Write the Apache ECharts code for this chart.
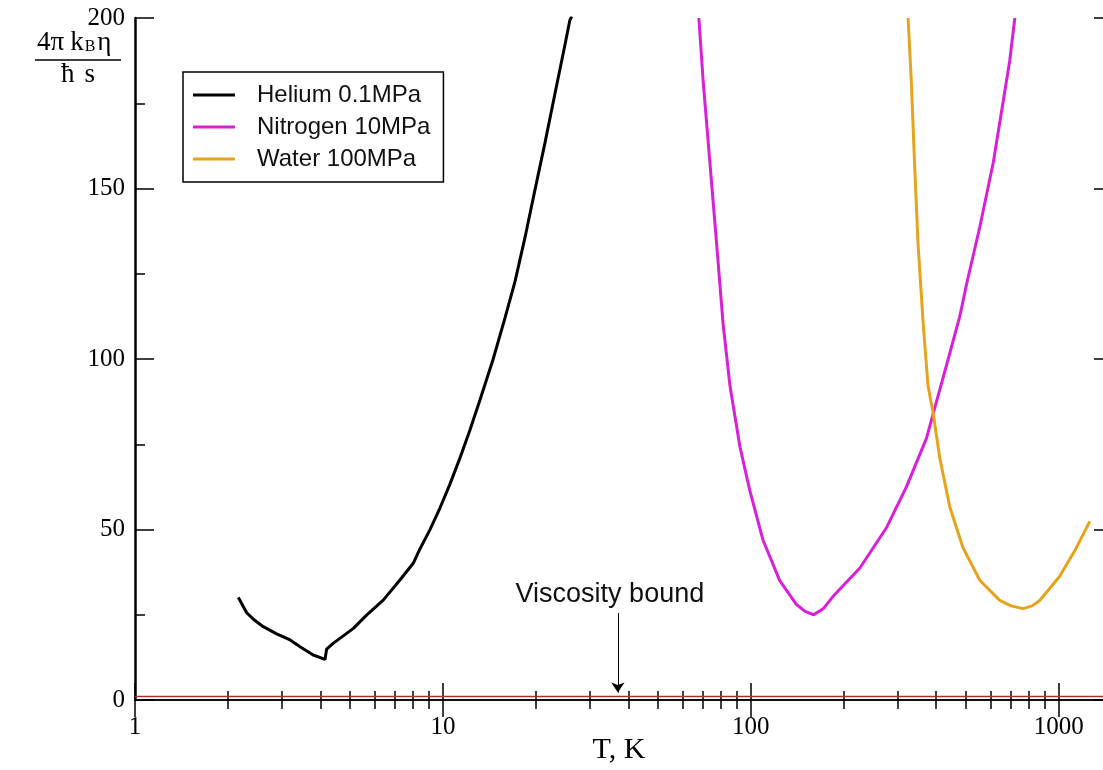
<!DOCTYPE html>
<html>
<head>
<meta charset="utf-8">
<script src="https://cdn.jsdelivr.net/npm/echarts@6/dist/echarts.min.js"></script>
<style>
html,body{margin:0;padding:0;background:#fff;}
#chart{width:1103px;height:770px;}
</style>
</head>
<body>
<div id="chart"></div>
<script>
// values: T in K, y = 4*pi*kB*eta/(hbar*s)
var heliumT   = [2.165, 2.247, 2.305, 2.423, 2.61, 2.884, 3.19, 3.435, 3.79, 4.14, 4.19, 4.40, 5.12, 5.65, 6.40, 7.25, 8.01, 8.42, 9.07, 9.78, 10.54, 11.36, 12.24, 13.19, 14.53, 15.90, 17.13, 18.46, 19.90, 21.44, 23.10, 24.90, 25.84, 26.2];
var heliumEta = [30.1, 27.4, 25.6, 23.7, 21.5, 19.4, 17.6, 15.6, 13.2, 11.9, 14.9, 16.6, 21.0, 24.9, 29.3, 35.2, 40.1, 44.3, 49.9, 56.3, 63.3, 71.0, 79.2, 88.0, 99.7, 112.0, 122.6, 135.5, 149.6, 163.3, 177.7, 192.1, 199.4, 200.5];

var nitrogenT   = [67.8, 70.0, 73.6, 77.4, 81.3, 85.5, 92.1, 99.3, 109.4, 124, 140.7, 150, 160, 172, 185, 226, 276, 320, 372, 391, 432, 477, 502, 554, 613, 660, 693, 720];
var nitrogenEta = [200, 181.5, 157.7, 133.9, 110.1, 92.3, 74.4, 61.3, 47.0, 35.1, 28, 26.0, 25, 26.8, 30.4, 38.7, 50.6, 62.5, 76.8, 84, 98.2, 112.5, 122, 138.7, 157.7, 175.6, 187.5, 200];

var waterT   = [324, 332, 340, 349, 363, 376, 391, 411, 443, 489, 554, 643, 700, 765, 820, 867, 1007, 1140, 1261];
var waterEta = [200, 181.5, 157.7, 133.9, 110.1, 92.3, 84, 70.8, 56.5, 44.6, 35.1, 29.2, 27.6, 26.8, 27.6, 29.2, 36.3, 44.6, 52.4];

var boundT   = [1, 1500];
var boundEta = [1, 1];
var arrowT = 37;

var majorX = [1, 10, 100, 1000];
var minorX = [2, 3, 4, 5, 6, 7, 8, 9, 20, 30, 40, 50, 60, 70, 80, 90, 200, 300, 400, 500, 600, 700, 800, 900];
var majorY = [0, 50, 100, 150, 200];
var minorY = [25, 75, 125, 175];

function pairs(xs, ys) {
    var out = [];
    for (var i = 0; i < xs.length; i++) {
        out.push([xs[i], ys[i]]);
    }
    return out;
}

var serif = 'Liberation Serif';
var sans = 'Liberation Sans';

function xAx(pos, ticks, len, withLabel, withLine) {
    return {
        type: 'log', logBase: 10, min: 1, max: 1500, position: pos,
        axisLine: {show: withLine, lineStyle: {color: '#000', width: 1.5}},
        axisTick: {show: true, inside: true, length: len, customValues: ticks, lineStyle: {color: '#000', width: 1.5}},
        axisLabel: {
            show: withLabel, customValues: majorX, margin: 15,
            fontFamily: serif, fontSize: 25, color: '#000',
            formatter: function (v) { return String(Math.round(v)); }
        },
        splitLine: {show: false}
    };
}

function yAx(pos, ticks, len, withLabel, withLine) {
    return {
        type: 'value', min: 0, max: 200, interval: 50, position: pos,
        axisLine: {show: withLine, lineStyle: {color: '#000', width: 2.5}},
        axisTick: {show: true, inside: true, length: len, customValues: ticks, lineStyle: {color: '#000', width: 1.5}},
        axisLabel: {show: withLabel, margin: 10, fontFamily: serif, fontSize: 25, color: '#000'},
        splitLine: {show: false}
    };
}

var myChart = echarts.init(document.getElementById('chart'));

var option = {
    animation: false,
    backgroundColor: '#fff',
    grid: {left: 135, top: 18, width: 978, height: 682, containLabel: false, outerBoundsMode: 'none'},
    legend: {
        orient: 'vertical', left: 183, top: 72,
        data: ['Helium 0.1MPa', 'Nitrogen 10MPa', 'Water 100MPa'],
        icon: 'rect',
        itemWidth: 42, itemHeight: 3, itemGap: 8,
        padding: [11, 13, 11, 10],
        borderColor: '#000', borderWidth: 1.5, borderRadius: 0,
        backgroundColor: '#fff',
        textStyle: {fontFamily: sans, fontSize: 24, color: '#111', padding: [0, 0, 0, 17], lineHeight: 24}
    },
    xAxis: [
        xAx('bottom', majorX, 17, true, true),
        xAx('bottom', minorX, 9, false, false),
        xAx('top', majorX, 17, false, true),
        xAx('top', minorX, 9, false, false)
    ],
    yAxis: [
        yAx('left', majorY, 19, true, true),
        yAx('left', minorY, 10, false, false),
        yAx('right', majorY, 19, false, true),
        yAx('right', minorY, 10, false, false)
    ],
    graphic: [
        // y axis title, drawn as a fraction
        {type: 'text', left: 37, top: 29, style: {
            text: '{a|4π}{k|k}{b|B}{a|η}',
            rich: {
                a: {fontFamily: serif, fontSize: 27, color: '#000', verticalAlign: 'bottom'},
                k: {fontFamily: serif, fontSize: 27, color: '#000', verticalAlign: 'bottom', padding: [0, 0, 0, 6]},
                b: {fontFamily: serif, fontSize: 16, color: '#000', verticalAlign: 'bottom', padding: [0, 2, 1, 1]}
            }
        }},
        {type: 'line', shape: {x1: 35, y1: 60, x2: 121, y2: 60}, style: {stroke: '#000', lineWidth: 1.5}},
        {type: 'text', left: 61, top: 61, style: {
            text: '{a|ħ}{s|s}',
            rich: {
                a: {fontFamily: serif, fontSize: 27, color: '#000'},
                s: {fontFamily: serif, fontSize: 27, color: '#000', padding: [0, 0, 0, 10]}
            }
        }},
        // x axis title
        {type: 'text', x: 619, y: 750, style: {
            text: 'T, K', fontFamily: serif, fontSize: 30, fill: '#000',
            align: 'center', verticalAlign: 'middle'
        }}
    ],
    series: [
        {
            name: 'Viscosity bound', type: 'line', symbol: 'none',
            data: pairs(boundT, boundEta),
            lineStyle: {color: '#a8302c', width: 1.5},
            silent: true,
            markLine: {
                silent: true, symbol: ['none', 'arrow'], symbolSize: 10,
                lineStyle: {color: '#000', width: 1, type: 'solid'},
                label: {show: true, position: 'start', distance: 5, offset: [-8, 0], formatter: 'Viscosity bound',
                    fontFamily: sans, fontSize: 27, color: '#111'},
                data: [[{coord: [arrowT, 25.5]}, {coord: [arrowT, 2.2]}]]
            }
        },
        {
            name: 'Helium 0.1MPa', type: 'line', symbol: 'none',
            data: pairs(heliumT, heliumEta),
            itemStyle: {color: '#000'},
            lineStyle: {color: '#000', width: 3}
        },
        {
            name: 'Nitrogen 10MPa', type: 'line', symbol: 'none',
            data: pairs(nitrogenT, nitrogenEta),
            itemStyle: {color: '#da1fda'},
            lineStyle: {color: '#da1fda', width: 3}
        },
        {
            name: 'Water 100MPa', type: 'line', symbol: 'none',
            data: pairs(waterT, waterEta),
            itemStyle: {color: '#e8a31c'},
            lineStyle: {color: '#e8a31c', width: 3}
        }
    ]
};

myChart.setOption(option);
</script>
</body>
</html>
